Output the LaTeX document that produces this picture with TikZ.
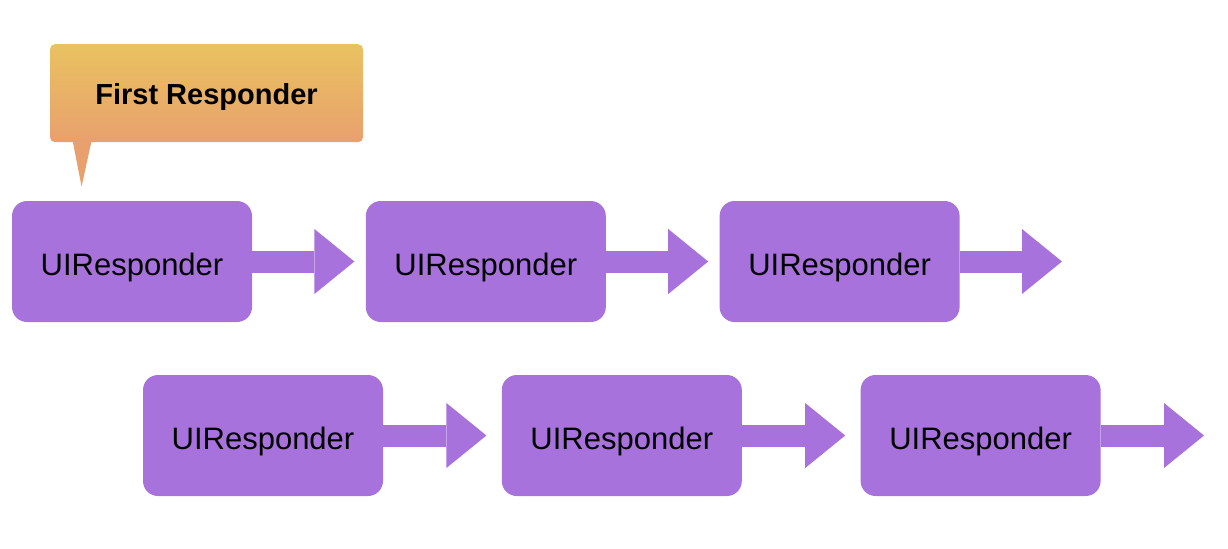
\documentclass[tikz,border=0pt]{standalone}
\usepackage{fontspec}
\setmainfont{Liberation Sans}
\usetikzlibrary{arrows.meta,positioning}
\definecolor{Violet}{HTML}{A872DC}
\definecolor{TagTop}{HTML}{E9C260}
\definecolor{TagBottom}{HTML}{E8A06E}
\tikzset{
  resp/.style={fill=Violet,rounded corners=7.5pt,minimum width=120pt,minimum height=60.5pt,inner sep=0pt,text height=14.1pt,text depth=0pt,font=\fontsize{15.5}{18}\selectfont},
  tag/.style={top color=TagTop,bottom color=TagBottom,rounded corners=2.5pt,minimum width=156.5pt,minimum height=49pt,inner sep=0pt,text height=10.9pt,text depth=0pt,font=\fontsize{14.5}{17}\selectfont\bfseries},
  flow/.style={draw=Violet,line width=11pt,-{Triangle[length=20pt,width=32.5pt,line width=0pt]}}
}
\begin{document}
\begin{tikzpicture}[x=0.5pt,y=-0.5pt]
        \useasboundingbox (0,0) rectangle (1228,548);

        % first row
        \node[resp] (r1) at (132,261.5) {UIResponder};
        \node[resp,right=56.5pt of r1] (r2) {UIResponder};
        \node[resp,right=56.5pt of r2] (r3) {UIResponder};
        \coordinate (e3) at ([xshift=51pt]r3.east);
        \draw[flow] (r1.east) -- ([xshift=-5.5pt]r2.west);
        \draw[flow] (r2.east) -- ([xshift=-5.5pt]r3.west);
        \draw[flow] (r3.east) -- (e3);

        % second row
        \node[resp] (r4) at (263,435.5) {UIResponder};
        \node[resp,right=59pt of r4] (r5) {UIResponder};
        \node[resp,right=59pt of r5] (r6) {UIResponder};
        \coordinate (e6) at ([xshift=51.5pt]r6.east);
        \draw[flow] (r4.east) -- ([xshift=-7.5pt]r5.west);
        \draw[flow] (r5.east) -- ([xshift=-7.5pt]r6.west);
        \draw[flow] (r6.east) -- (e6);

        % callout
        \node[tag,anchor=south west] (fr) at ([xshift=19pt,yshift=29pt]r1.north west) {First Responder};
        \coordinate (frtip) at ([xshift=35pt,yshift=7pt]r1.north west);
        \fill[TagBottom] ([xshift=11.5pt,yshift=1pt]fr.south west) -- ([xshift=21pt,yshift=1pt]fr.south west) -- (frtip) -- cycle;
      \end{tikzpicture}
\end{document}
